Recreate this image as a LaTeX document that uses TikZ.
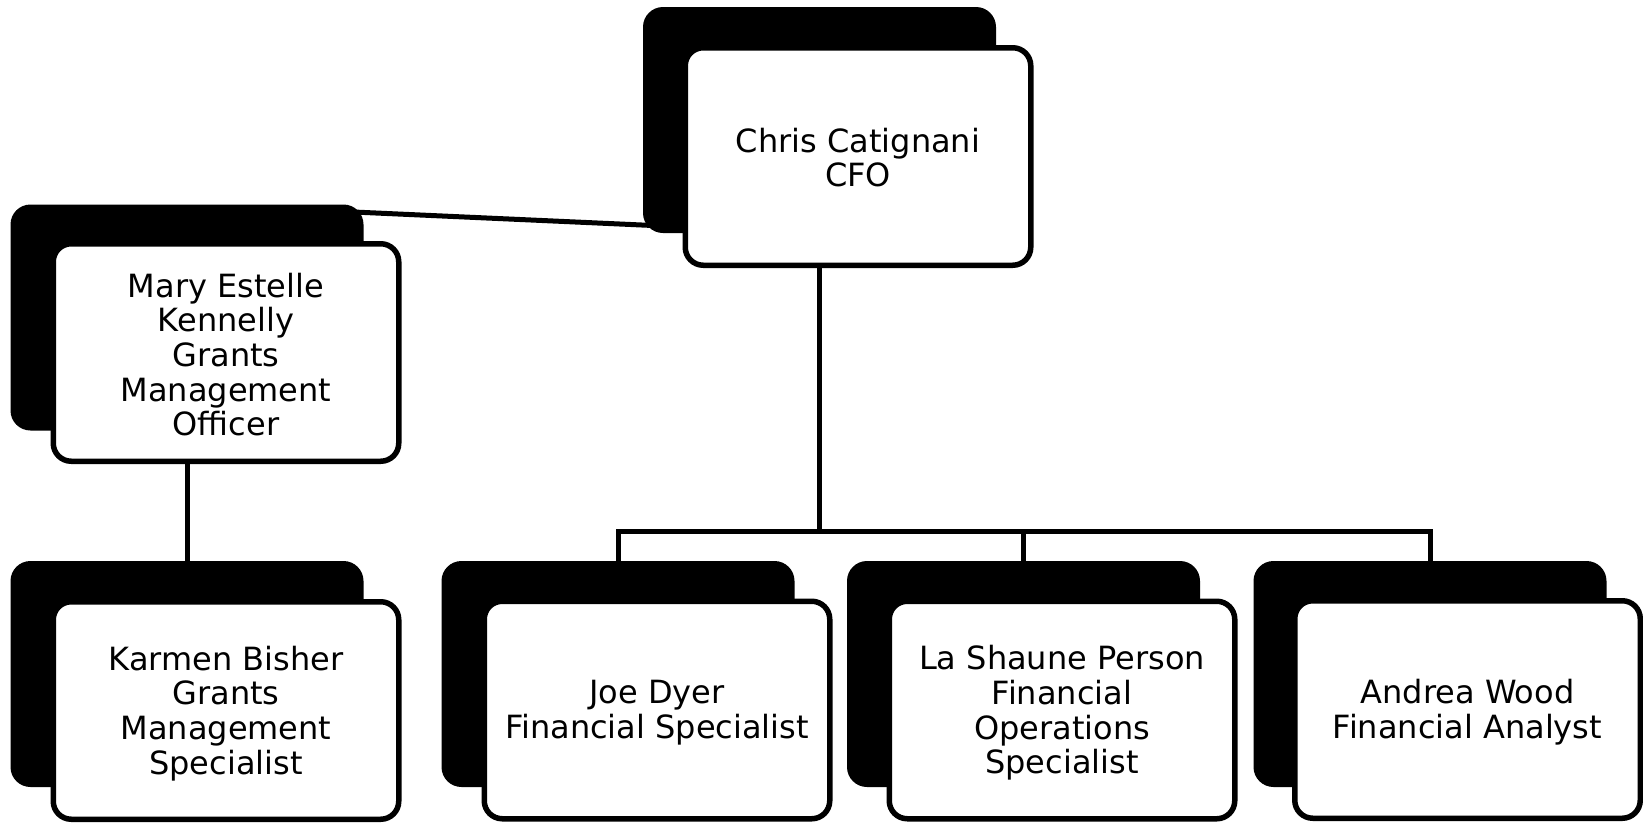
\documentclass[tikz,border=0pt]{standalone}
\usepackage{fontspec}
\setmainfont{DejaVu Sans}
\usetikzlibrary{calc,backgrounds}
\tikzset{
  backbox/.style={fill=black, rounded corners=20pt, minimum width=353pt, minimum height=226pt, inner sep=0pt},
  frontbox/.style={fill=white, draw=black, line width=5.5pt, rounded corners=18pt, minimum width=345.5pt, minimum height=217.5pt, inner sep=0pt},
  txt/.style={align=center, inner sep=0pt, font=\fontsize{32}{34.7}\selectfont},
  conn/.style={draw=black, line width=5pt, line join=miter}
}
\begin{document}
\begin{tikzpicture}[x=1pt,y=-1pt]
\useasboundingbox (0,0) rectangle (1643,822);
% back boxes
\node[backbox] (cfoback) at (819.5,120) {};
\node[backbox] (maryback) at (187,317.5) {};
\node[backbox] (karmenback) at (187,674) {};
\node[backbox] (joeback) at (618,674) {};
\node[backbox] (lashauneback) at (1023.5,674) {};
\node[backbox] (andreaback) at (1430,674) {};
% front boxes
\node[frontbox] (cfobox) at (858,156.5) {};
\node[frontbox] (marybox) at (226,352.5) {};
\node[frontbox] (karmenbox) at (226,710.5) {};
\node[frontbox] (joebox) at (657,710) {};
\node[frontbox] (lashaunebox) at (1062,710) {};
\node[frontbox] (andreabox) at (1467.5,709.5) {};
% texts
\node[txt] (cfo) at ($(cfobox.center)+(0,1)$) {Chris Catignani\\CFO};
\node[txt] (mary) at ($(marybox.center)+(0,2)$) {Mary Estelle\\Kennelly\\Grants\\Management\\Officer};
\node[txt] (karmen) at ($(karmenbox.center)+(0,3)$) {Karmen Bisher\\Grants\\Management\\Specialist};
\node[txt] (joe) at ($(joebox.center)+(0,3)$) {Joe Dyer\\Financial Specialist};
\node[txt] (lashaune) at ($(lashaunebox.center)+(0,3)$) {La Shaune Person\\Financial\\Operations\\Specialist};
\node[txt] (andrea) at ($(andreabox.center)+(0,3)$) {Andrea Wood\\Financial Analyst};
\coordinate (bar) at (819.5,531);
\begin{pgfonlayer}{background}
\draw[conn] (cfoback.center) -- (cfoback.center |- bar);
\draw[conn] (joeback.center) -- (joeback.center |- bar) -- (andreaback.center |- bar) -- (andreaback.center);
\draw[conn] (lashauneback.center) -- (lashauneback.center |- bar);
\draw[conn] (maryback.center) -- (karmenback.center);
\draw[conn] ($(maryback.north east)+(-30,6.8)$) -- ($(cfoback.south west)+(30,-6.8)$);
\end{pgfonlayer}
\end{tikzpicture}
\end{document}
